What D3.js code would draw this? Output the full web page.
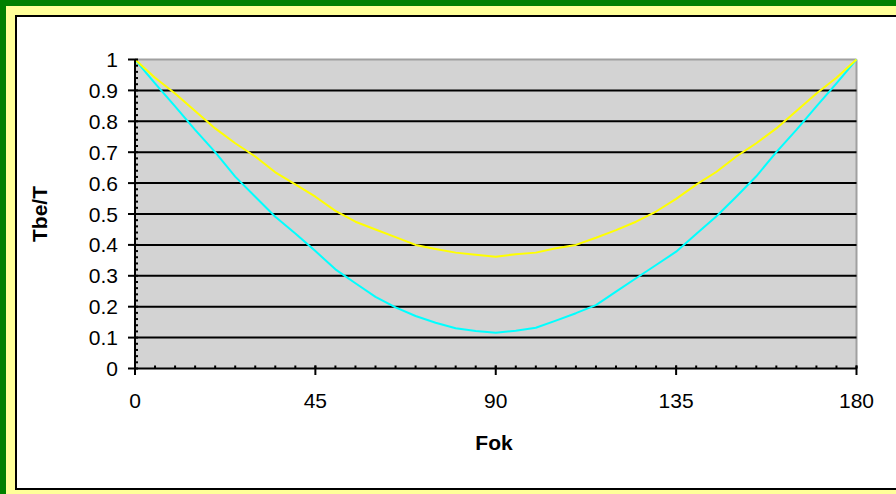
<!DOCTYPE html>
<html>
<head>
<meta charset="utf-8">
<script src="https://cdn.jsdelivr.net/npm/d3@7"></script>
<style>
html,body{margin:0;padding:0;background:#008000;}
svg{display:block;}
text{font-family:Arial,"Liberation Sans",sans-serif;fill:#000;}
</style>
</head>
<body>
<svg id="chart" width="896" height="494"></svg>
<script>
// Data
const fok = [0,5,10,15,20,25,30,35,40,45,50,55,60,65,70,75,80,85,90,95,100,105,110,115,120,125,130,135,140,145,150,155,160,165,170,175,180];
const yellowSeries = [1.000,0.941,0.890,0.833,0.777,0.729,0.686,0.635,0.596,0.556,0.510,0.475,0.450,0.425,0.400,0.387,0.375,0.368,0.362,0.370,0.375,0.389,0.400,0.423,0.448,0.475,0.508,0.549,0.595,0.636,0.686,0.729,0.777,0.833,0.890,0.941,1.000];
const cyanSeries = [1.000,0.923,0.848,0.772,0.700,0.621,0.556,0.491,0.437,0.380,0.321,0.276,0.232,0.198,0.170,0.148,0.130,0.121,0.116,0.122,0.132,0.155,0.179,0.205,0.249,0.292,0.335,0.378,0.435,0.492,0.556,0.622,0.700,0.772,0.848,0.923,1.000];
const xTicks = [0,45,90,135,180];
const yTicks = [0,0.1,0.2,0.3,0.4,0.5,0.6,0.7,0.8,0.9,1];
const yTickLabels = ["0","0.1","0.2","0.3","0.4","0.5","0.6","0.7","0.8","0.9","1"];
const xLabel = "Fok";
const yLabel = "Tbe/T";

const svg = d3.select("#chart");
// frame
svg.append("rect").attr("x",0).attr("y",0).attr("width",896).attr("height",494).attr("fill","#008000");
svg.append("rect").attr("x",6).attr("y",6).attr("width",900).attr("height",500).attr("fill","#ffff99");
svg.append("rect").attr("x",16).attr("y",16).attr("width",900).attr("height",473)
  .attr("fill","#ffffff").attr("stroke","#000").attr("stroke-width",2);

const L=135, R=856.5, T=59.5, B=368.5;
const x = d3.scaleLinear().domain([0,180]).range([L,R]);
const y = d3.scaleLinear().domain([0,1]).range([B,T]);

// plot area
svg.append("rect").attr("x",L).attr("y",T).attr("width",R-L).attr("height",B-T).attr("fill","#d3d3d3");
svg.append("line").attr("x1",L).attr("x2",R).attr("y1",T).attr("y2",T).attr("stroke","#a0a0a0").attr("stroke-width",2);
svg.append("line").attr("x1",R).attr("x2",R).attr("y1",T).attr("y2",B).attr("stroke","#a0a0a0").attr("stroke-width",2);

// gridlines
svg.append("g").selectAll("line").data(yTicks.filter(d=>d>0&&d<1)).join("line")
  .attr("x1",L).attr("x2",R).attr("y1",d=>y(d)).attr("y2",d=>y(d))
  .attr("stroke","#000").attr("stroke-width",2);

// curves
const line = d3.line().x((d,i)=>x(fok[i])).y(d=>y(d));
svg.append("path").datum(cyanSeries).attr("d",line).attr("fill","none")
  .attr("stroke","#00ffff").attr("stroke-width",2).attr("stroke-linejoin","round");
svg.append("path").datum(yellowSeries).attr("d",line).attr("fill","none")
  .attr("stroke","#ffff00").attr("stroke-width",2).attr("stroke-linejoin","round");

// y axis
const yMinor = d3.range(0,1.0001,0.02);
svg.append("g").selectAll("line").data(yMinor).join("line")
  .attr("x1",L).attr("x2",L+3).attr("y1",d=>y(d)).attr("y2",d=>y(d))
  .attr("stroke","#000").attr("stroke-width",2);
svg.append("g").selectAll("line").data(yTicks).join("line")
  .attr("x1",L-7).attr("x2",L).attr("y1",d=>y(d)).attr("y2",d=>y(d))
  .attr("stroke","#000").attr("stroke-width",2);
svg.append("line").attr("x1",L).attr("x2",L).attr("y1",T).attr("y2",B+1).attr("stroke","#000").attr("stroke-width",2);
svg.append("g").selectAll("text").data(yTicks).join("text")
  .attr("x",118).attr("y",d=>y(d)+7.5).attr("text-anchor","end").attr("font-size",21)
  .text((d,i)=>yTickLabels[i]);

// x axis
const xMinor = d3.range(0,180.001,5);
svg.append("g").selectAll("line").data(xMinor).join("line")
  .attr("x1",d=>x(d)).attr("x2",d=>x(d)).attr("y1",B-3).attr("y2",B)
  .attr("stroke","#000").attr("stroke-width",2);
svg.append("g").selectAll("line").data(xTicks).join("line")
  .attr("x1",d=>x(d)).attr("x2",d=>x(d)).attr("y1",B-3).attr("y2",B+6.5)
  .attr("stroke","#000").attr("stroke-width",2);
svg.append("line").attr("x1",L-1).attr("x2",R).attr("y1",B).attr("y2",B).attr("stroke","#000").attr("stroke-width",2);
svg.append("g").selectAll("text").data(xTicks).join("text")
  .attr("x",d=>x(d)).attr("y",408).attr("text-anchor","middle").attr("font-size",21)
  .text(d=>d);

// axis titles
svg.append("text").attr("x",494).attr("y",450).attr("text-anchor","middle")
  .attr("font-size",21).attr("font-weight","bold").text(xLabel);
svg.append("text").attr("transform","translate(47,214) rotate(-90)").attr("text-anchor","middle")
  .attr("font-size",21).attr("font-weight","bold").text(yLabel);
</script>
</body>
</html>
